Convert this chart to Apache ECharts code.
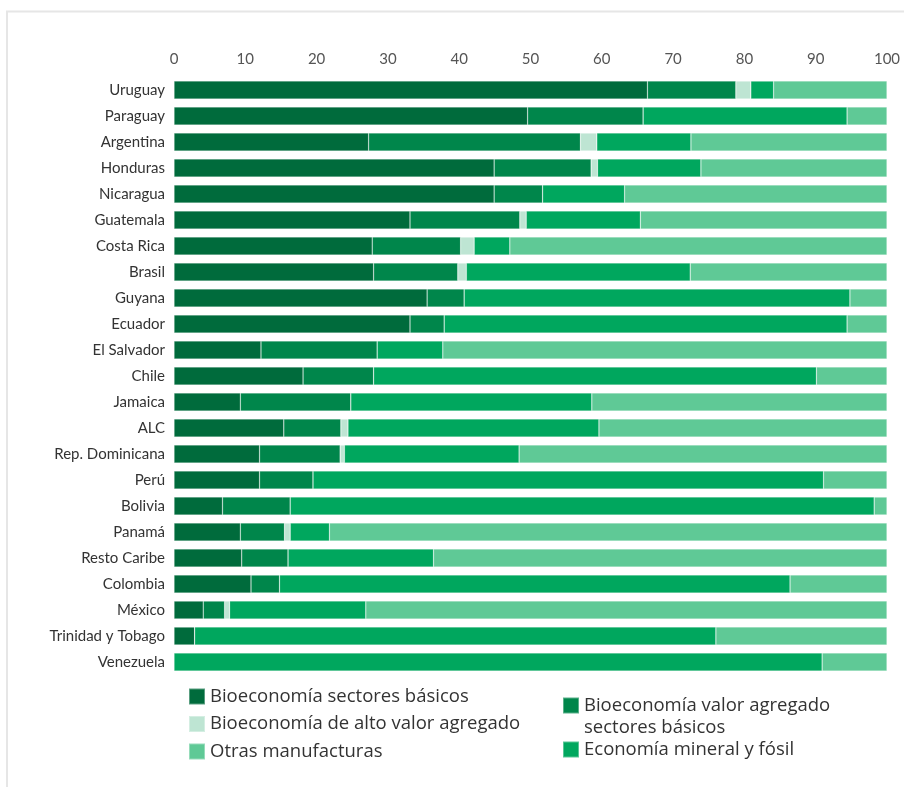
<!DOCTYPE html>
<html>
<head>
<meta charset="utf-8">
<script src="https://cdn.jsdelivr.net/npm/echarts@6/dist/echarts.min.js"></script>
<style>
html,body{margin:0;padding:0;background:#fff;}
#chart{width:904px;height:787px;}
</style>
</head>
<body>
<div id="chart"></div>
<script>
const categories = ["Uruguay","Paraguay","Argentina","Honduras","Nicaragua","Guatemala","Costa Rica","Brasil","Guyana","Ecuador","El Salvador","Chile","Jamaica","ALC","Rep. Dominicana","Perú","Bolivia","Panamá","Resto Caribe","Colombia","México","Trinidad y Tobago","Venezuela"];
const bioBasicos   = [66.4,49.6,27.3,44.9,44.9,33.1,27.8,28.0,35.5,33.1,12.2,18.1,9.3,15.4,12.0,12.0,6.8,9.3,9.5,10.8,4.1,2.9,0];
const bioValorAgr  = [12.4,16.2,29.7,13.6,6.8,15.4,12.4,11.8,5.2,4.8,16.3,9.9,15.5,8.0,11.3,7.5,9.5,6.2,6.5,4.0,3.0,0,0];
const bioAltoValor = [2.1,0,2.3,0.9,0,0.9,1.9,1.2,0,0,0,0,0,1.0,0.6,0,0,0.8,0,0,0.7,0,0];
const mineralFosil = [3.2,28.6,13.2,14.5,11.5,16.0,5.0,31.4,54.1,56.5,9.2,62.1,33.8,35.2,24.5,71.6,81.9,5.5,20.4,71.6,19.1,73.1,90.9];
const otrasManuf   = [15.9,5.6,27.5,26.1,36.8,34.6,52.9,27.6,5.2,5.6,62.3,9.9,41.4,40.4,51.6,8.9,1.8,78.2,63.6,13.6,73.1,24.0,9.1];
const xTicks = [0,10,20,30,40,50,60,70,80,90,100];

const names = ["Bioeconomía sectores básicos","Bioeconomía valor agregado sectores básicos","Bioeconomía de alto valor agregado","Economía mineral y fósil","Otras manufacturas"];
const colors = ["#006b3c","#00864b","#bee5d3","#00a75e","#5fc996"];
const seriesData = [bioBasicos, bioValorAgr, bioAltoValor, mineralFosil, otrasManuf];

const chart = echarts.init(document.getElementById('chart'));
const FONT = 'Lato';
const LFONT = 'Open Sans';
const legendText = {fontFamily:LFONT, fontSize:18.5, color:'#333', lineHeight:18};
const legendBase = {
  orient:'vertical', icon:'rect', itemWidth:16, itemHeight:16, padding:0,
  selectedMode:false, textStyle:legendText
};
chart.setOption({
  animation:false,
  backgroundColor:'#fff',
  graphic:[{
    type:'polyline', silent:true,
    shape:{points:[[7,787],[7,11.5],[904,11.5]]},
    style:{stroke:'#e6e6e6', lineWidth:2, fill:null}
  },{
    type:'text', silent:true, left:584, top:718,
    style:{text:'sectores básicos', font:'18.5px "Open Sans"', fill:'#333'}
  }],
  grid:{left:174, right:17, top:77, bottom:112},
  xAxis:{
    type:'value', position:'top', min:0, max:100, interval:10,
    axisLine:{show:false}, axisTick:{show:false}, splitLine:{show:false},
    axisLabel:{fontFamily:FONT, fontSize:15, color:'#555', margin:10,
      formatter:v => xTicks.includes(v) ? String(v) : ''}
  },
  yAxis:{
    type:'category', data:categories, inverse:true,
    axisLine:{show:false}, axisTick:{show:false},
    axisLabel:{fontFamily:FONT, fontSize:15, color:'#333', margin:9}
  },
  legend:[
    Object.assign({}, legendBase, {left:188, top:687, itemGap:8.5, data:[names[0], names[2], names[4]]}),
    Object.assign({}, legendBase, {left:562, top:696, data:[names[1]],
      formatter:() => 'Bioeconomía valor agregado'}),
    Object.assign({}, legendBase, {left:562, top:740, data:[names[3]]})
  ],
  series: names.map((n,i)=>({
    name:n, type:'bar', stack:'total', data:seriesData[i],
    barCategoryGap:'31%',
    itemStyle:{color:colors[i], borderColor:'rgba(255,255,255,0.35)', borderWidth:0.6},
    emphasis:{disabled:true}
  }))
});
</script>
</body>
</html>
